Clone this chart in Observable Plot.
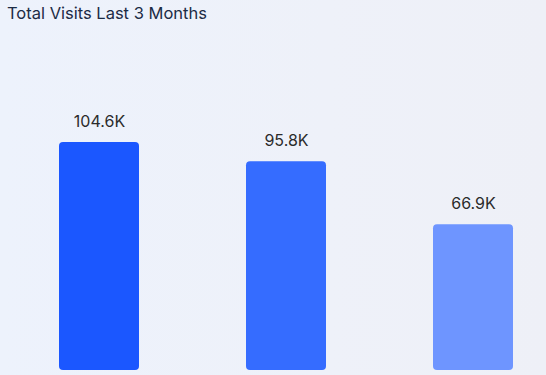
<!DOCTYPE html>
<html>
<head>
<meta charset="utf-8">
<script src="https://cdn.jsdelivr.net/npm/d3@7"></script>
<script src="https://cdn.jsdelivr.net/npm/@observablehq/plot@0.6"></script>
<style>
  html, body { margin: 0; padding: 0; }
  body {
    width: 546px; height: 375px; overflow: hidden;
    background: linear-gradient(to right, #edf2fc 0%, #eef1f9 60%, #eef0f7 100%);
    font-family: Inter, "DejaVu Sans", sans-serif;
  }
  #title {
    height: 30px; box-sizing: border-box;
    padding: 3px 0 0 7px;
    font-size: 16.5px; color: #1c2b45; line-height: 20px;
  }
  svg { display: block; background: transparent !important; }
</style>
</head>
<body>
<div id="title">Total Visits Last 3 Months</div>
<div id="chart"></div>
<script>
const months = ["Month 1", "Month 2", "Month 3"];
const visits = [104.6, 95.8, 66.9];
const labels = ["104.6K", "95.8K", "66.9K"];
const colors = ["#1b57ff", "#356cff", "#6e95ff"];

const data = months.map((m, i) => ({month: m, value: visits[i], label: labels[i], color: colors[i]}));

const chart = Plot.plot({
  width: 546,
  height: 345,
  marginLeft: 40,
  marginRight: 14,
  marginTop: 0,
  marginBottom: 5,
  x: {domain: months, paddingInner: 0.572, paddingOuter: 0.1, axis: null},
  y: {domain: [0, 156], axis: null},
  style: {background: "transparent", fontFamily: "Inter, 'DejaVu Sans', sans-serif"},
  marks: [
    Plot.barY(data, {x: "month", y: "value", fill: "color", rx: 4}),
    Plot.text(data, {x: "month", y: "value", text: "label", dy: -21, fontSize: 16, fill: "#2b2b2b"})
  ]
});
document.getElementById("chart").appendChild(chart);
</script>
</body>
</html>
